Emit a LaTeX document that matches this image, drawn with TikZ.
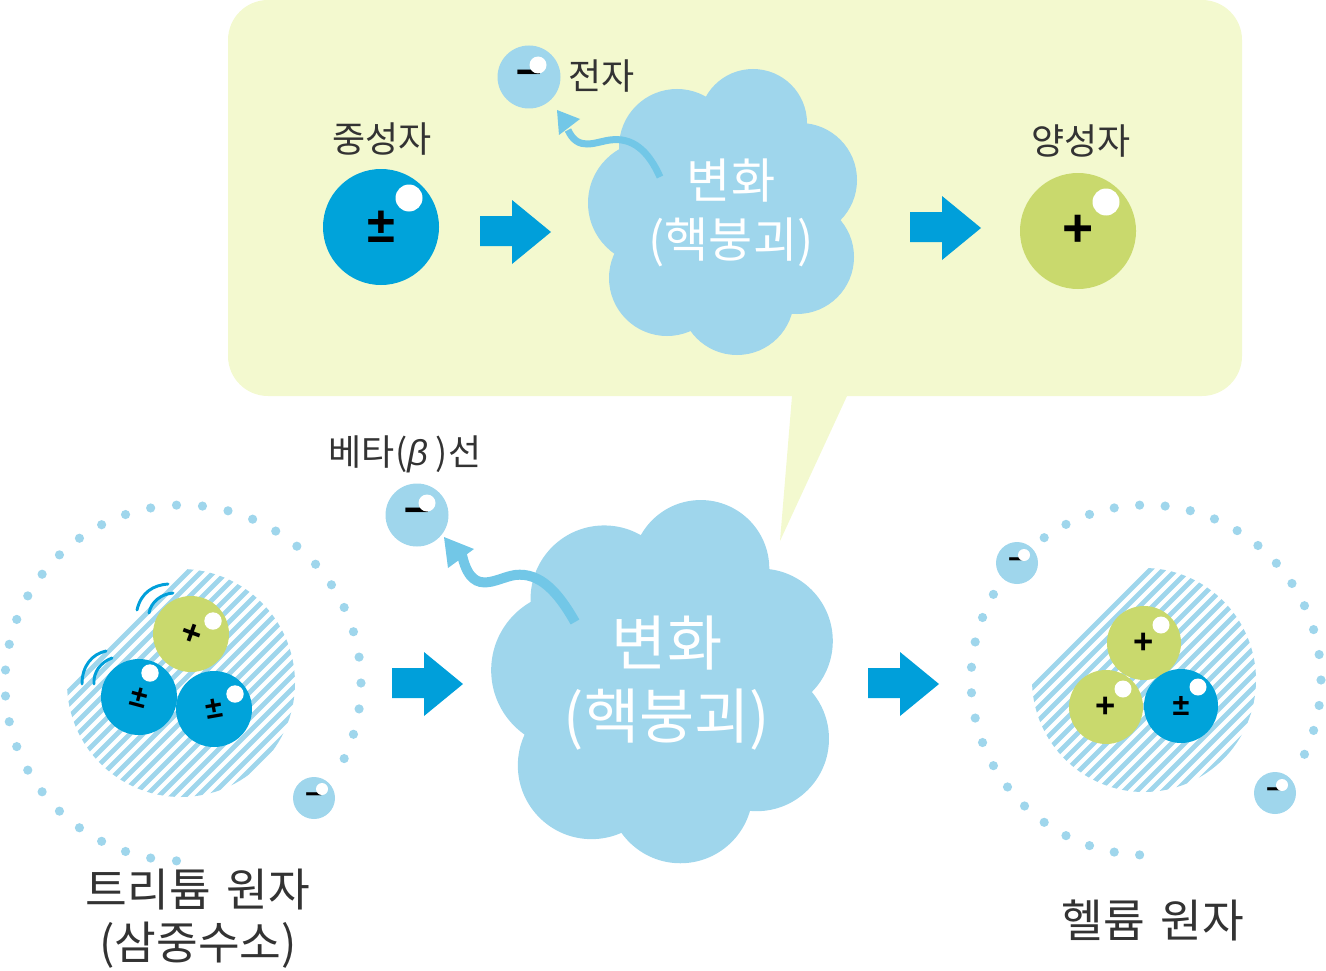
\documentclass[tikz,border=0pt]{standalone}
\usepackage{fontspec}
\setmainfont{Noto Sans CJK KR}
\newfontfamily\signfont{Liberation Sans}[BoldFont={Liberation Sans Bold},ItalicFont={Liberation Sans Italic}]
\definecolor{bubblecol}{HTML}{F3F9CF}
\definecolor{cloudcol}{HTML}{9FD6EC}
\definecolor{swoopcol}{HTML}{72C7E7}
\definecolor{arrowcol}{HTML}{009FDA}
\definecolor{neutroncol}{HTML}{00A3DA}
\definecolor{protoncol}{HTML}{C9D96D}
\definecolor{inkcol}{HTML}{333333}
\tikzset{
  x=0.75pt,y=-0.75pt,
  label text/.style={text=inkcol,inner sep=0,font=\fontsize{27}{27}\selectfont},
  caption text/.style={text=inkcol,inner sep=0,font=\fontsize{34}{34}\selectfont},
  cloud small/.style={text=white,inner sep=0,align=center,font=\fontsize{36}{44}\selectfont},
  cloud big/.style={text=white,inner sep=0,align=center,font=\fontsize{45}{55}\selectfont},
  sign/.style={text=black,inner sep=0,font=\signfont\bfseries\fontsize{#1}{#1}\selectfont},
}
% \ball{name}{x}{y}{r}{colour}{sign}{sign size}{rotation}{highlight}
\newcommand{\ball}[9]{%
  \fill[#5] (#2,#3) circle[radius=#4];
  \node[sign=#7,rotate=#8] (#1) at (#2,#3) {#6};
  \fill[white] #9;
}
\newcommand{\blockarrow}[2]{%
  \begin{scope}[shift={(#1,#2)}]
    \fill[arrowcol] (0,16) -- (32,16) -- (32,0) -- (71,32) -- (32,64) -- (32,46) -- (0,46) -- cycle;
  \end{scope}
}
\newcommand{\cloudshape}{%
  \fill[cloudcol]
    (753,123) circle[radius=54] (677,147) circle[radius=58]
    (800,180) circle[radius=57] (797,257) circle[radius=57]
    (737,298) circle[radius=57] (667,278) circle[radius=58]
    (650,203) circle[radius=62]
    (640,170) -- (760,110) -- (830,200) -- (800,280) -- (700,320) -- (630,260) -- cycle;
}
\begin{document}
\begin{tikzpicture}
\useasboundingbox (0,0) rectangle (1326,970);
% speech bubble
\fill[bubblecol,rounded corners=30] (228,0) rectangle (1242,396);
\fill[bubblecol] (847,390) -- (847,396) -- (780,541) -- (792,396) -- (792,390) -- cycle;
% top cloud
\cloudshape
\node[cloud small] (topcloud) at (731,213) {변화\\(핵붕괴)};
% bottom cloud
\begin{scope}[shift={(-255.6,412.4)},scale=1.27]
  \cloudshape
\end{scope}
\node[cloud big] (botcloud) at (667,683) {변화\\(핵붕괴)};
% block arrows
\blockarrow{480}{200}
\blockarrow{910}{196}
\blockarrow{392}{652}
\blockarrow{868}{652}
% top row particles
\ball{n0}{381}{227}{58}{neutroncol}{±}{38}{0}{(409,198) circle[radius=13.5]}
\ball{p0}{1078}{231}{58}{protoncol}{+}{40}{0}{(1106,202) circle[radius=13.5]}
\ball{e0}{529}{77}{31.5}{cloudcol}{–}{34}{0}{(538,65) circle[radius=8.5]}
\node[label text,anchor=west] (l1) at (568,76) {전자};
\node[label text] (l2) at (382,139) {중성자};
\node[label text] (l3) at (1081,141) {양성자};
% swoops
\draw[swoopcol,line width=5.25] (660,177) .. controls (648,150) and (632,137) .. (610,140)
  .. controls (595,142) and (578,152) .. (568,130);
\fill[swoopcol] (557,110) -- (580,119) -- (559,135) -- cycle;
\draw[swoopcol,line width=7.5] (575,622) .. controls (558,592) and (540,572) .. (515,575)
  .. controls (495,578) and (470,600) .. (461,550);
\fill[swoopcol] (444,537) -- (474,549) -- (448,568) -- cycle;
% beta electron
\ball{e1}{417}{515}{31.5}{cloudcol}{–}{34}{0}{(427,503) circle[radius=8.5]}
\node[label text] (l4) at (405,454) {베타({\signfont\itshape β} )선};
% left atom
\foreach \i in {0,1,2,3,11,12,...,42}
  \fill[cloudcol] ({183+178*cos(\i*360/43)},{683+178*sin(\i*360/43)}) circle[radius=4.6];
\begin{scope}
  \clip (181,683) circle[radius=114];
  \foreach \k in {-40,-27,...,400}
    \draw[cloudcol,line width=3.6] (\k,800) -- (\k+240,560);
\end{scope}
\draw[arrowcol,line width=2.2,line cap=round] (137,610) .. controls (141,592) and (154,585) .. (168,584);
\draw[arrowcol,line width=2.2,line cap=round] (149,613) .. controls (151,602) and (161,594) .. (173,593);
\draw[arrowcol,line width=2.2,line cap=round] (82,684) .. controls (82,666) and (92,654) .. (106,651);
\draw[arrowcol,line width=2.2,line cap=round] (94,684) .. controls (93,672) and (101,662) .. (112,658);
\ball{p1}{191}{634}{38}{protoncol}{+}{26}{-20}{(213,621) circle[radius=8.7]}
\ball{n1}{139}{697}{38}{neutroncol}{±}{23}{-15}{(150,673) circle[radius=8.7]}
\ball{n2}{214}{709}{38}{neutroncol}{±}{23}{10}{(235,694) circle[radius=8.7]}
\ball{e2}{314}{798}{21}{cloudcol}{–}{23}{0}{(322,789) circle[radius=6]}
% right atom
\foreach \i in {0,1,2,3,11,12,...,25,28,29,...,42}
  \fill[cloudcol] ({1146+175*cos(\i*360/43)},{680+175*sin(\i*360/43)}) circle[radius=4.6];
\begin{scope}
  \clip (1144,680) circle[radius=112];
  \foreach \k in {920,933,...,1400}
    \draw[cloudcol,line width=3.6] (\k,800) -- (\k+240,560);
\end{scope}
\ball{p2}{1144}{643}{37}{protoncol}{+}{26}{0}{(1161,625) circle[radius=8.5]}
\ball{p3}{1106}{707}{37}{protoncol}{+}{26}{0}{(1123,689) circle[radius=8.5]}
\ball{n3}{1181}{706}{37}{neutroncol}{±}{23}{0}{(1198,687) circle[radius=8.5]}
\ball{e3}{1017}{563}{21}{cloudcol}{–}{23}{0}{(1024,555) circle[radius=6]}
\ball{e4}{1275}{793}{21}{cloudcol}{–}{23}{0}{(1282,785) circle[radius=6]}
% captions
\node[caption text] (c1) at (198,890) {트리튬\hspace{0.35em}원자};
\node[caption text] (c2) at (198,945) {(삼중수소)};
\node[caption text] (c3) at (1153,920) {헬륨\hspace{0.35em}원자};
\end{tikzpicture}
\end{document}
